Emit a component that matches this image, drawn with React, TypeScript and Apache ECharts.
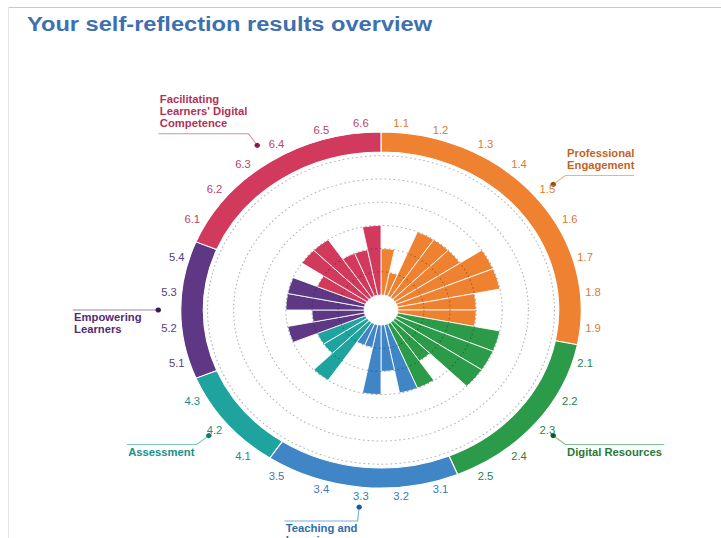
import React, { useEffect, useRef } from "react";
import * as echarts from "echarts";

// ---------- data ----------
const chartTitle = "Your self-reflection results overview";
const areaNames = [
  "Professional\nEngagement",
  "Digital Resources",
  "Teaching and\nLearning",
  "Assessment",
  "Empowering\nLearners",
  "Facilitating\nLearners' Digital\nCompetence",
];
const areaCounts = [9, 5, 5, 3, 4, 6];
const competences = [
  "1.1", "1.2", "1.3", "1.4", "1.5", "1.6", "1.7", "1.8", "1.9",
  "2.1", "2.2", "2.3", "2.4", "2.5",
  "3.1", "3.2", "3.3", "3.4", "3.5",
  "4.1", "4.2", "4.3",
  "5.1", "5.2", "5.3", "5.4",
  "6.1", "6.2", "6.3", "6.4", "6.5", "6.6",
];
const levels = [
  2, 1, 3, 3, 3, 4, 4, 3, 3,
  4, 4, 4, 2, 3,
  3, 2, 3, 1, 1,
  3, 2, 2,
  3, 2, 3, 3,
  2, 3, 3, 2, 2, 3,
];
const levelTicks = [0, 1, 2, 3, 4, 5, 6, 7];

// ---------- styles / geometry ----------
const S = 1.125;
const W = 641;
const H = 538;
const CX = 381 / S;
const CY = 310;
const R_IN = 15;
const R_OUT = 177.4;
const RING_IN = 158;
const RING_OUT = 178;
const DOT_R = 198;
const BEND_R = 212;
const FONT = '"Liberation Sans", Arial, Helvetica, sans-serif';

const FILL = ["#ef8230", "#2b9a49", "#4086c7", "#1fa39f", "#5e3884", "#d1395d"];
const TICK = ["#d87b35", "#2b7e45", "#3b77b6", "#1d8c87", "#5a3a7e", "#b8436b"];
const NAME = ["#c2641f", "#1f7a3a", "#2f6cab", "#17908a", "#4f2c72", "#b32f57"];
const DOT = ["#9c4a10", "#0f5a28", "#1d5894", "#127a74", "#3a1a5a", "#8e1a3c"];
const LINE = ["#f0b27f", "#7dbf8e", "#7eaedb", "#7cc8c4", "#9b84b5", "#e08aa0"];
const LEN2 = [61, 88, 65, 62, 62, 80];

function buildOption() {
  const groupOf: number[] = [];
  areaCounts.forEach((c, g) => {
    for (let i = 0; i < c; i++) groupOf.push(g);
  });
  const total = competences.length;
  const step = 360 / total;

  const graphics: any[] = [];
  let start = 0;
  areaCounts.forEach((c, g) => {
    const mid = ((start + c / 2) * step * Math.PI) / 180;
    start += c;
    const sn = Math.sin(mid);
    const cs = Math.cos(mid);
    const dx = CX + DOT_R * sn;
    const dy = CY - DOT_R * cs;
    const bx = CX + BEND_R * sn;
    const by = CY - BEND_R * cs;
    const right = sn > 0.01;
    const ex = right ? bx + LEN2[g] : bx - LEN2[g];
    const above = cs > 0.01;
    const tx = right ? bx + 1.5 : ex + 1.2;
    const ty = above ? by - 4.5 : by + 1.5;
    graphics.push({
      type: "polyline",
      silent: true,
      shape: { points: [[dx, dy], [bx, by], [ex, by]] },
      style: { stroke: LINE[g], lineWidth: 1, fill: null },
    });
    graphics.push({
      type: "circle",
      silent: true,
      shape: { cx: dx, cy: dy, r: 2.5 },
      style: { fill: DOT[g] },
    });
    graphics.push({
      type: "text",
      silent: true,
      x: tx,
      y: ty,
      style: {
        text: areaNames[g],
        fill: NAME[g],
        font: `bold 10px ${FONT}`,
        textAlign: "left",
        textVerticalAlign: above ? "bottom" : "top",
        lineHeight: 12,
      },
    });
  });

  return {
    animation: false,
    title: {
      text: chartTitle,
      left: 24,
      top: 13,
      padding: 0,
      textStyle: { fontSize: 21, fontWeight: "bold", color: "#3d70b0", fontFamily: FONT },
    },
    polar: { center: [CX, CY], radius: [R_IN, R_OUT] },
    angleAxis: {
      type: "category",
      data: competences.map((c, i) => ({ value: c, textStyle: { color: TICK[groupOf[i]] } })),
      startAngle: 90,
      clockwise: true,
      boundaryGap: true,
      axisLine: { show: false },
      axisTick: { show: false },
      splitLine: { show: false },
      axisLabel: { show: true, interval: 0, margin: 5, fontSize: 10, fontFamily: FONT },
      z: 1,
    },
    radiusAxis: {
      type: "value",
      min: levelTicks[0],
      max: levelTicks[levelTicks.length - 1],
      interval: 1,
      axisLine: { show: false },
      axisTick: { show: false },
      axisLabel: { show: false },
      splitLine: {
        show: true,
        lineStyle: {
          color: [
            "rgba(0,0,0,0)",
            "rgba(0,0,0,0.3)",
            "rgba(0,0,0,0.3)",
            "rgba(0,0,0,0.3)",
            "rgba(0,0,0,0.3)",
            "rgba(0,0,0,0.3)",
            "rgba(0,0,0,0.3)",
            "rgba(0,0,0,0)",
          ],
          type: [1.5, 2.5],
          width: 1,
        },
      },
      z: 3,
    },
    series: [
      {
        type: "bar",
        coordinateSystem: "polar",
        barCategoryGap: "0%",
        z: 2,
        silent: true,
        data: levels.map((v, i) => ({
          value: v,
          itemStyle: { color: FILL[groupOf[i]], borderColor: "#ffffff", borderWidth: 0.8 },
        })),
      },
      {
        type: "pie",
        center: [CX, CY],
        radius: [RING_IN, RING_OUT],
        startAngle: 90,
        clockwise: true,
        silent: true,
        z: 5,
        label: { show: false },
        labelLine: { show: false },
        itemStyle: { borderColor: "#ffffff", borderWidth: 1 },
        data: areaCounts.map((c, g) => ({
          value: c,
          name: areaNames[g],
          itemStyle: { color: FILL[g] },
        })),
      },
    ],
    graphic: graphics,
  };
}

export default function App() {
  const ref = useRef<HTMLDivElement>(null);
  useEffect(() => {
    if (!ref.current) return;
    const chart = echarts.init(ref.current, null, { renderer: "svg" });
    chart.setOption(buildOption() as any);
    return () => chart.dispose();
  }, []);
  return (
    <div
      style={{
        position: "fixed",
        left: 0,
        top: 0,
        width: 721,
        height: 538,
        overflow: "hidden",
        background: "#ffffff",
      }}
    >
      <div style={{ position: "absolute", left: 8, top: 7, width: 713, height: 1, background: "#e2bcc3" }} />
      <div style={{ position: "absolute", left: 8, top: 7, width: 1, height: 531, background: "#e6e6e6" }} />
      <div
        ref={ref}
        style={{
          position: "absolute",
          left: 0,
          top: 0,
          width: W,
          height: H,
          transform: `scaleX(${S})`,
          transformOrigin: "0 0",
        }}
      />
    </div>
  );
}
